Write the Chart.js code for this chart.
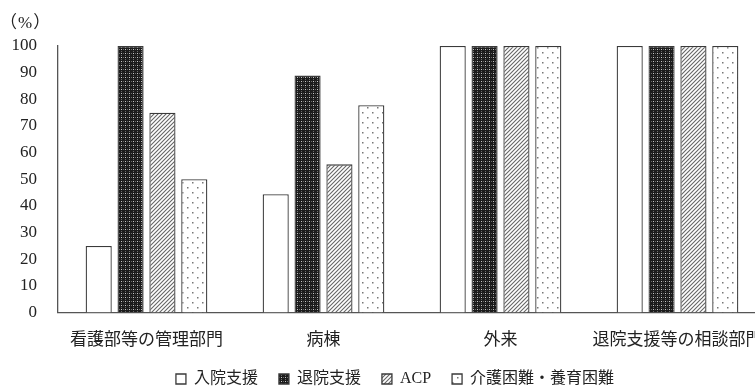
<!DOCTYPE html>
<html>
<head>
<meta charset="utf-8">
<script src="https://cdn.jsdelivr.net/npm/chart.js@4/dist/chart.umd.min.js"></script>
<style>
body{margin:0;overflow:hidden;background:#fff;}
#wrap{position:absolute;left:0;top:0;width:768px;height:408px;}
#unit{position:absolute;left:0px;top:8px;font:17px 'Liberation Serif','Noto Sans CJK JP',serif;color:#222;letter-spacing:1px;}
</style>
</head>
<body>
<div id="wrap"><canvas id="myChart"></canvas></div>
<div id="unit">（%）</div>
<script>
var categories=['看護部等の管理部門','病棟','外来','退院支援等の相談部門'];
var seriesNames=['入院支援','退院支援','ACP','介護困難・養育困難'];
var nyuin=[25,44.4,100,100];
var taiin=[100,88.9,100,100];
var acp=[75,55.6,100,100];
var kaigo=[50,77.8,100,100];
var yTicks=[0,10,20,30,40,50,60,70,80,90,100];

var fontFam="'Liberation Serif','Noto Sans CJK JP',serif";

function makePattern(kind){
  var c=document.createElement('canvas');
  var ctx=c.getContext('2d');
  if(kind=='dark'){
    c.width=4;c.height=4;
    ctx.fillStyle='#1c1c1c';ctx.fillRect(0,0,4,4);
    ctx.fillStyle='#c8c8c8';ctx.fillRect(1,1,1,1);
    ctx.fillStyle='#6a6a6a';ctx.fillRect(3,1,1,1);ctx.fillRect(1,3,1,1);
  }else if(kind=='hatch'){
    c.width=4;c.height=4;
    ctx.fillStyle='#fff';ctx.fillRect(0,0,4,4);
    ctx.strokeStyle='#666';ctx.lineWidth=1.1;
    ctx.beginPath();
    ctx.moveTo(-1,5);ctx.lineTo(5,-1);
    ctx.moveTo(-1,1);ctx.lineTo(1,-1);
    ctx.moveTo(3,5);ctx.lineTo(5,3);
    ctx.stroke();
  }else{
    c.width=10;c.height=10;
    ctx.fillStyle='#fff';ctx.fillRect(0,0,10,10);
    ctx.fillStyle='#777';
    ctx.fillRect(2,2,1.5,1.5);ctx.fillRect(7,7,1.5,1.5);
  }
  return ctx.createPattern(c,'repeat');
}

var fills=['#ffffff',makePattern('dark'),makePattern('hatch'),makePattern('dots')];
var dataArr=[nyuin,taiin,acp,kaigo];

var datasets=seriesNames.map(function(n,i){
  return {label:n,data:dataArr[i],backgroundColor:fills[i],borderColor:'#3a3a3a',borderWidth:1.3,
    barPercentage:0.82,categoryPercentage:0.72};
});

// pull the legend up closer to the axis labels, nudge it right
var legendShift={id:'legendShift',afterLayout:function(chart){
  var lg=chart.legend;
  if(lg){lg.top-=11;lg.bottom-=11;lg.left+=7;lg.right+=7;}
}};

var ctx=document.getElementById('myChart').getContext('2d');
var myChart=new Chart(ctx,{
  type:'bar',
  data:{labels:categories,datasets:datasets},
  plugins:[legendShift],
  options:{
    responsive:true,maintainAspectRatio:false,animation:false,
    layout:{padding:{left:10,top:46,right:2,bottom:0}},
    plugins:{
      legend:{position:'bottom',labels:{font:{family:fontFam,size:16},color:'#222',boxWidth:10,boxHeight:10,padding:21}},
      tooltip:{enabled:false}
    },
    scales:{
      x:{grid:{display:false},border:{display:true,color:'#555',width:1.3},
        ticks:{font:{family:fontFam,size:17},color:'#222',padding:10,maxRotation:0,autoSkip:false},
        afterFit:function(s){s.paddingLeft=0;s.paddingRight=0;}},
      y:{min:0,max:100,grid:{display:false,drawTicks:false},border:{display:true,color:'#555',width:1.3},
        afterBuildTicks:function(s){s.ticks=yTicks.map(function(v){return {value:v};});},
        afterFit:function(s){s.width=48;s.paddingTop=0;s.paddingBottom=0;},
        ticks:{font:{family:fontFam,size:17},color:'#222',padding:21,autoSkip:false}}
    }
  }
});
</script>
</body>
</html>
